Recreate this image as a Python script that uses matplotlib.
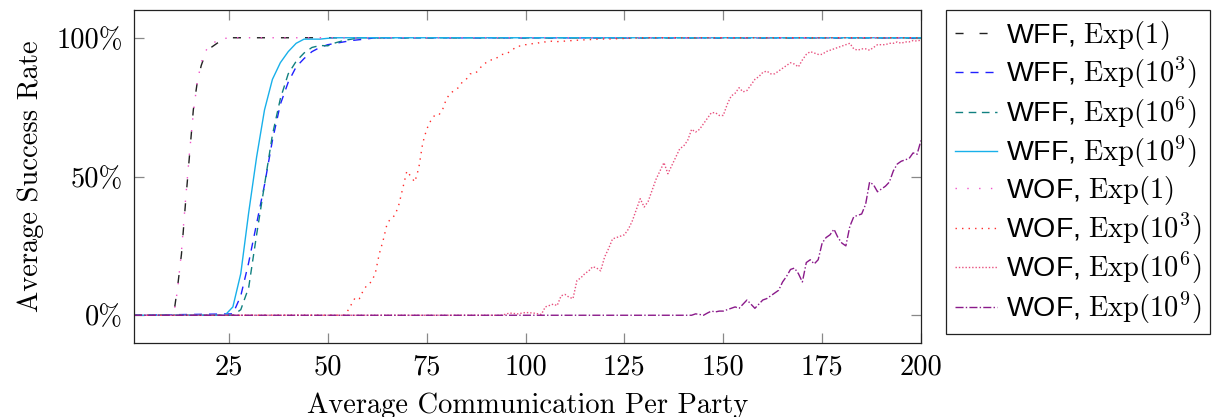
import matplotlib
matplotlib.use("Agg")
import matplotlib.pyplot as plt

plt.rcParams['mathtext.fontset'] = 'cm'
plt.rcParams['lines.scale_dashes'] = False
plt.rcParams['axes.formatter.use_mathtext'] = True

# ---------------- data ----------------
wff1_x = [1, 10, 11, 12, 13, 14, 15, 16, 17, 18, 19, 20, 21, 22, 23, 24, 26, 200]
wff1_y = [0, 0, 0, 10, 22, 40, 57, 74, 84, 90, 94, 96, 97, 98, 99, 99.5, 100, 100]

wff3_x = [1, 26, 28, 30, 32, 34, 36, 38, 40, 42, 44, 46, 48, 50, 52, 54, 56, 58, 60, 62, 200]
wff3_y = [0, 0.5, 7, 19, 33, 47, 63, 76, 84, 89.5, 92.5, 95, 96.5, 97.5, 98, 98.5, 99, 99.3, 99.6, 100, 100]

wff6_x = [1, 26, 28, 30, 32, 34, 36, 38, 40, 42, 44, 46, 48, 50, 52, 54, 56, 58, 200]
wff6_y = [0, 0, 2, 10, 29, 47, 65, 78, 87, 91.5, 94.5, 96.5, 97.2, 97.1, 98.2, 99, 99.5, 100, 100]

wff9_x = [1, 24, 26, 28, 30, 32, 34, 36, 38, 40, 42, 44, 46, 48, 50, 52, 200]
wff9_y = [0, 0, 3, 15, 37, 57, 74, 85, 91, 95, 98, 99.5, 99.5, 99.5, 99.8, 100, 100]

wof1_x = [1, 11, 12, 13, 14, 15, 16, 17, 18, 19, 20, 21, 22, 23, 25, 200]
wof1_y = [0, 0, 9, 23, 41, 58, 73, 84, 91, 95, 97, 98, 99, 99.5, 100, 100]

wof3_x = [1, 53, 54, 55, 56, 57, 58, 59, 60, 61, 62, 63, 64, 65, 66, 67, 68, 69, 70,
          71, 72, 73, 74, 75, 76, 77, 78, 79, 80, 81, 82, 83, 84, 85, 86, 87, 88, 89,
          90, 91, 92, 93, 94, 95, 96, 97, 98, 99, 100, 101, 102, 103, 104, 105, 106,
          108, 110, 112, 114, 116, 118, 122, 126, 130, 200]
wof3_y = [0, 0, 0, 1.5, 4, 6.5, 6, 9, 11, 12, 15, 22, 27, 33, 35, 36, 40, 46, 52,
          50, 48, 53, 62, 67, 70, 72, 72, 74, 78, 80, 81, 82, 84, 85, 87, 87, 88, 90,
          91, 92, 92, 93, 94, 94, 95, 96, 97, 97, 97.5, 97.5, 98, 98, 98.5, 98.5, 98.8,
          98.6, 98.8, 99.0, 99.2, 99.3, 99.5, 99.6, 99.8, 100, 100]

wof6_x = [1, 94, 96, 98, 100, 102, 104, 105, 106, 107, 108, 109, 110, 111, 112, 113,
          114, 115, 116, 117, 118, 119, 120, 121, 122, 123, 124, 125, 126, 127, 128,
          129, 130, 131, 132, 133, 134, 135, 136, 137, 138, 139, 140, 141, 142, 143,
          144, 145, 146, 147, 148, 149, 150, 151, 152, 153, 154, 155, 156, 157, 158,
          159, 160, 161, 162, 163, 164, 165, 166, 167, 168, 169, 170, 171, 172, 173,
          174, 175, 176, 177, 178, 179, 180, 181, 182, 183, 184, 185, 186, 187, 188,
          189, 190, 191, 192, 193, 194, 195, 196, 197, 198, 199, 200]
wof6_y = [0, 0, 0.8, 0.5, 1, 0.8, 0.3, 3, 3.5, 4, 3.5, 7, 7.5, 6.5, 6, 12.5,
          13.5, 15, 16, 17.5, 17, 16, 21, 24, 27.5, 28, 28.5, 29, 31, 34, 38,
          42, 39, 41, 45, 49, 52, 55, 51, 54, 57, 60, 61, 63, 67, 66,
          67, 69, 71, 73, 73, 72, 72, 76, 79, 80, 82, 80.5, 81, 83, 85,
          86, 87.5, 88, 87, 87, 88, 89, 90, 91, 90.5, 89.5, 92, 94, 95, 94.5,
          94, 94, 95, 95.5, 96, 96.5, 97, 97.5, 98, 96, 95.5, 96, 96, 95.5, 96.5,
          97.5, 97.5, 97.5, 98, 98, 98.5, 98, 98.5, 98.5, 99, 98.8, 99.2]

wof9_x = [1, 142, 143, 144, 145, 146, 147, 148, 149, 150, 151, 152, 153, 154, 155,
          156, 157, 158, 159, 160, 161, 162, 163, 164, 165, 166, 167, 168, 169, 170,
          171, 172, 173, 174, 175, 176, 177, 178, 179, 180, 181, 182, 183, 184, 185,
          186, 187, 188, 189, 190, 191, 192, 193, 194, 195, 196, 197, 198, 199, 200]
wof9_y = [0, 0, 0.5, 0.3, 0, 0.8, 1.5, 1.2, 1.5, 1.5, 2, 2.5, 3, 2.5, 4,
          5.5, 4, 2.5, 4, 5.5, 6, 7, 8, 9, 12, 14, 16.5, 17, 15, 12,
          19, 20, 18.5, 20, 26, 28, 29, 31, 28, 26, 25, 32, 35.5, 36, 36.5,
          40, 48, 47, 44.5, 45.5, 46.5, 48, 52, 54.5, 55.5, 56, 56.5, 58.5, 58, 63]

labels = [r'WFF, $\mathrm{Exp}(1)$', r'WFF, $\mathrm{Exp}(10^3)$',
          r'WFF, $\mathrm{Exp}(10^6)$', r'WFF, $\mathrm{Exp}(10^9)$',
          r'WOF, $\mathrm{Exp}(1)$', r'WOF, $\mathrm{Exp}(10^3)$',
          r'WOF, $\mathrm{Exp}(10^6)$', r'WOF, $\mathrm{Exp}(10^9)$']

xticks = [25, 50, 75, 100, 125, 150, 175, 200]
yticks = [0, 50, 100]

# ---------------- figure ----------------
FS = 20.5
fig = plt.figure(figsize=(12.19, 4.17), dpi=100)
ax = fig.add_axes([134/1219, 1-343/417, (921-134)/1219, (343-10)/417])

series = [
    (wff1_x, wff1_y, dict(color='#222222', dashes=(5.8, 11.5))),
    (wff3_x, wff3_y, dict(color='#2020ff', dashes=(5.8, 5.0))),
    (wff6_x, wff6_y, dict(color='#108080', dashes=(5.5, 4.0))),
    (wff9_x, wff9_y, dict(color='#18b0ea', linestyle='-')),
    (wof1_x, wof1_y, dict(color='#f050c8', dashes=(1.0, 7.5))),
    (wof3_x, wof3_y, dict(color='#ff2a2a', dashes=(1.0, 3.7))),
    (wof6_x, wof6_y, dict(color='#e8507e', dashes=(1.0, 1.4))),
    (wof9_x, wof9_y, dict(color='#8a1a8a', dashes=(5.8, 1.6, 1.0, 1.6))),
]
handles = []
for (xs, ys, st), lab in zip(series, labels):
    h, = ax.plot(xs, ys, lw=1.0, label=lab, **st)
    handles.append(h)

ax.set_xlim(1, 200)
ax.set_ylim(-10, 110)
ax.set_xticks(xticks)
ax.set_xticklabels([str(t) for t in xticks], fontfamily='cmr10', fontsize=FS)
ax.set_yticks(yticks)
ax.set_yticklabels([f'{t}%' for t in yticks], fontfamily='cmr10', fontsize=FS)
ax.tick_params(direction='in', length=7, width=0.9, color='#888888',
               top=True, right=True, pad=8)
for sp in ax.spines.values():
    sp.set_linewidth(0.9)
    sp.set_color('#222222')

ax.set_xlabel('Average Communication Per Party', fontfamily='cmr10', fontsize=FS, labelpad=9)
ax.set_ylabel('Average Success Rate', fontfamily='cmr10', fontsize=FS, labelpad=9)

leg = fig.legend(handles, labels, loc='upper left',
                 bbox_to_anchor=(946/1219, 1-10/417),
                 prop={'family': 'Liberation Sans', 'size': FS},
                 frameon=True, fancybox=False, framealpha=1, edgecolor='#222222',
                 handlelength=1.5, handletextpad=0.3, labelspacing=0.13,
                 borderpad=0.3, borderaxespad=0)
leg.get_frame().set_linewidth(0.9)

fig.savefig('out.png', dpi=100)
